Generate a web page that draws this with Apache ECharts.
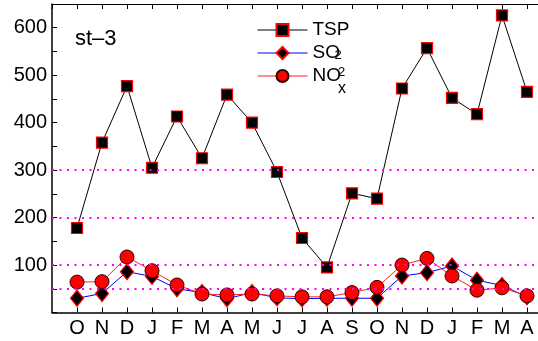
<!DOCTYPE html>
<html><head><meta charset="utf-8">
<script src="https://cdn.jsdelivr.net/npm/echarts@6/dist/echarts.min.js"></script>
<style>html,body{margin:0;padding:0;background:#fff}#c{width:538px;height:341px}</style>
</head><body><div id="c"></div>
<script>
const categories = ['O','N','D','J','F','M','A','M','J','J','A','S','O','N','D','J','F','M','A'];
const tsp = [178,358,477,305,413,325,459,400,296,157,95,251,240,472,557,452,418,626,465];
const so2 = [30,40,86,76,50,42,29,42,31,29,30,30,30,77,84,98,68,57,33];
const nox = [64,65,117,88,58,39,37,39,35,33,33,42,53,100,114,77,47,52,35];
const refLines = [50,100,200,300];
const yTickLabels = [100,200,300,400,500,600];
const seriesNames = ['TSP','SO2','NOx'];
const legendText = {TSP:'TSP', SO2:'SO', NOx:'NO'};

const FONT = 'Liberation Sans';
const pairs = arr => arr.map((v,i)=>[i,v]);
const chart = echarts.init(document.getElementById('c'));
chart.setOption({
  animation:false,
  backgroundColor:'#fff',
  grid:{left:52,top:4,right:0,bottom:28.5},
  xAxis:[{
    type:'value',min:-1,max:18.44,interval:1,
    axisLine:{show:true,onZero:false,lineStyle:{color:'#000',width:1.5}},
    axisTick:{show:true,inside:true,length:5,lineStyle:{color:'#000',width:1}},
    splitLine:{show:false},
    axisLabel:{show:true,margin:6,color:'#000',fontSize:20,fontFamily:FONT,
      showMinLabel:false,showMaxLabel:false,
      formatter:v=>{const i=Math.round(v);return (i>=0&&i<categories.length&&Math.abs(v-i)<1e-6)?categories[i]:'';}}
  },{
    type:'value',position:'top',min:-1,max:18.44,interval:1,
    axisLine:{show:true,onZero:false,lineStyle:{color:'#000',width:1}},
    axisTick:{show:true,inside:true,length:5,lineStyle:{color:'#000',width:1}},
    axisLabel:{show:false},splitLine:{show:false}
  }],
  yAxis:{
    type:'value',min:0,max:650,interval:50,
    axisLine:{show:true,onZero:false,lineStyle:{color:'#000',width:1.5}},
    axisTick:{show:true,inside:true,length:5,lineStyle:{color:'#000',width:1}},
    splitLine:{show:false},
    axisLabel:{margin:5,color:'#000',fontSize:20,fontFamily:FONT,
      formatter:v=>yTickLabels.indexOf(v)>=0?String(v):''}
  },
  legend:{
    orient:'vertical',left:252,top:15,itemWidth:50,itemHeight:15,itemGap:3,
    lineStyle:{width:1},
    textStyle:{fontSize:19,fontFamily:FONT,color:'#000',lineHeight:20},
    formatter:n=>legendText[n],
    data:seriesNames
  },
  graphic:[
    {type:'text',left:75,top:28,style:{text:'st\u20133',fontSize:22,fontFamily:FONT,fill:'#000'}},
    {type:'text',x:334.5,y:55.5,style:{text:'2',fontSize:13,fontFamily:FONT,fill:'#000',verticalAlign:'middle'}},
    {type:'text',x:338,y:72,style:{text:'2',fontSize:13,fontFamily:FONT,fill:'#000',verticalAlign:'middle'}},
    {type:'text',x:338,y:89,style:{text:'x',fontSize:16,fontFamily:FONT,fill:'#000',verticalAlign:'middle'}}
  ],
  series:[
    {name:'TSP',type:'line',data:pairs(tsp),symbol:'rect',symbolSize:11,
      lineStyle:{color:'#000',width:1},
      itemStyle:{color:'#000',borderColor:'#ff0000',borderWidth:1.2},
      markLine:{silent:true,symbol:'none',label:{show:false},
        lineStyle:{color:'#ff00ff',type:[2,5.5],width:2},
        data:refLines.map(v=>({yAxis:v}))}
    },
    {name:'SO2',type:'line',data:pairs(so2),symbol:'diamond',symbolSize:[13,16],
      lineStyle:{color:'#0000ff',width:1},
      itemStyle:{color:'#000',borderColor:'#ff0000',borderWidth:1.2}},
    {name:'NOx',type:'line',data:pairs(nox),symbol:'circle',symbolSize:14,
      lineStyle:{color:'#ff2020',width:1},
      itemStyle:{color:'#ff0000',borderColor:'#300',borderWidth:1}}
  ]
});
</script></body></html>
